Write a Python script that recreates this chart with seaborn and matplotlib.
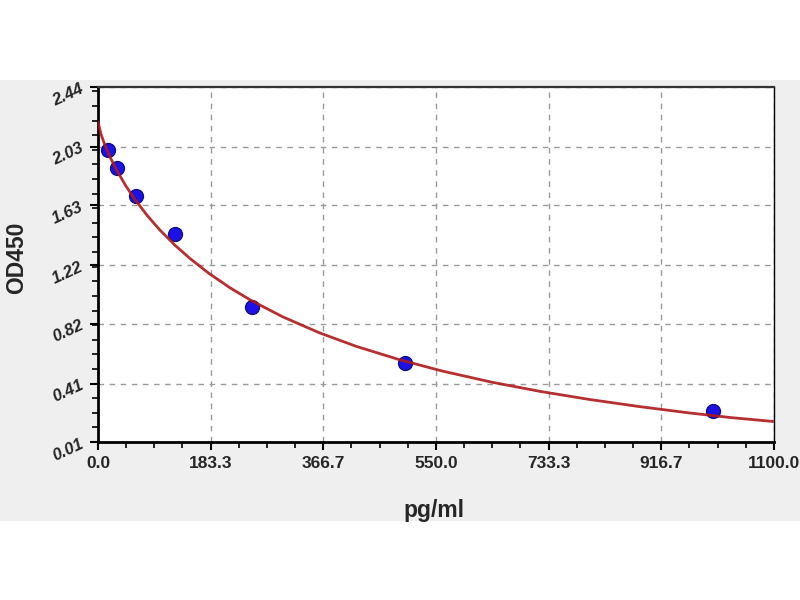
import matplotlib
matplotlib.use("Agg")
import matplotlib.pyplot as plt
import seaborn as sns
import pandas as pd
from matplotlib.patches import Rectangle
from matplotlib.ticker import AutoMinorLocator

# ---- data ----
std_conc = [15.6, 31.25, 62.5, 125, 250, 500, 1000]
std_od = [2.008, 1.885, 1.694, 1.434, 0.934, 0.55, 0.222]

# fitted standard curve, read along its length
curve_conc = [0, 5, 10, 20, 30, 45, 60, 80, 100, 125, 150, 180, 215, 250, 300, 360,
              420, 490, 560, 640, 720, 800, 880, 960, 1030, 1100]
curve_od = [2.200, 2.116, 2.056, 1.958, 1.874, 1.765, 1.671, 1.561, 1.464, 1.358,
            1.265, 1.166, 1.065, 0.977, 0.868, 0.758, 0.665, 0.574, 0.496, 0.420,
            0.356, 0.301, 0.253, 0.210, 0.177, 0.150]

x_ticks = [0.0, 183.3, 366.7, 550.0, 733.3, 916.7, 1100.0]
x_tick_labels = ["0.0", "183.3", "366.7", "550.0", "733.3", "916.7", "1100.0"]
y_ticks = [0.01, 0.41, 0.82, 1.22, 1.63, 2.03, 2.44]
y_tick_labels = ["0.01", "0.41", "0.82", "1.22", "1.63", "2.03", "2.44"]

sns.set_theme(style="white")
plt.rcParams["font.family"] = ["Liberation Sans", "DejaVu Sans"]

fig = plt.figure(figsize=(8, 6), dpi=100)
fig.patch.set_facecolor("white")
# gray band behind the chart
fig.patches.append(Rectangle((0, 1 - 521 / 600), 1, 441 / 600,
                             transform=fig.transFigure, facecolor="#efefef",
                             edgecolor="none", zorder=-10))

ax = fig.add_axes([98 / 800, 1 - 442 / 600, (774 - 98) / 800, (442 - 87) / 600])
ax.set_facecolor("white")

pts = pd.DataFrame({"conc": std_conc, "od": std_od})
crv = pd.DataFrame({"conc": curve_conc, "od": curve_od})

sns.scatterplot(data=pts, x="conc", y="od", ax=ax, s=100, color="#1a12e6",
                edgecolor="#10108a", linewidth=1.0, zorder=3)
sns.lineplot(data=crv, x="conc", y="od", ax=ax, color="#b01818", linewidth=2.0,
             alpha=0.9, zorder=4)

ax.set_xlim(0, 1100)
ax.set_ylim(0.01, 2.44)
ax.set_xticks(x_ticks)
ax.set_xticklabels(x_tick_labels, fontsize=12.5, fontweight="bold")
ax.set_yticks(y_ticks)
ax.set_yticklabels(y_tick_labels, fontsize=12, fontweight="bold",
                   style="italic", rotation=25)
ax.xaxis.set_minor_locator(AutoMinorLocator(4))
ax.yaxis.set_minor_locator(AutoMinorLocator(4))
ax.tick_params(axis="both", which="major", direction="out", length=6, width=1.5,
               color="black", bottom=True, left=True, pad=4)
ax.tick_params(axis="both", which="minor", direction="out", length=4, width=1.2,
               color="black", bottom=True, left=True)
ax.tick_params(axis="y", which="major", pad=3)

ax.grid(True, which="major", linestyle=(0, (4, 4)), color="#9a9a9a", linewidth=1.0)
ax.set_axisbelow(True)

for side in ["left", "bottom"]:
    ax.spines[side].set_color("black")
    ax.spines[side].set_linewidth(2.0)
ax.spines["top"].set_color("#333333")
ax.spines["top"].set_linewidth(1.6)
ax.spines["right"].set_color("black")
ax.spines["right"].set_linewidth(1.0)
for side in ax.spines:
    ax.spines[side].set_visible(True)

ax.set_xlabel("pg/ml", fontsize=16.5, fontweight="bold")
ax.set_ylabel("OD450", fontsize=16.5, fontweight="bold")
ax.xaxis.set_label_coords((434 - 98) / 676, -(510 - 442) / 355)
ax.yaxis.set_label_coords(-(98 - 17) / 676, (442 - 258) / 355)
ax.xaxis.label.set_verticalalignment("center")
ax.yaxis.label.set_verticalalignment("center")

fig.savefig("out.png", dpi=100, facecolor=fig.get_facecolor())
